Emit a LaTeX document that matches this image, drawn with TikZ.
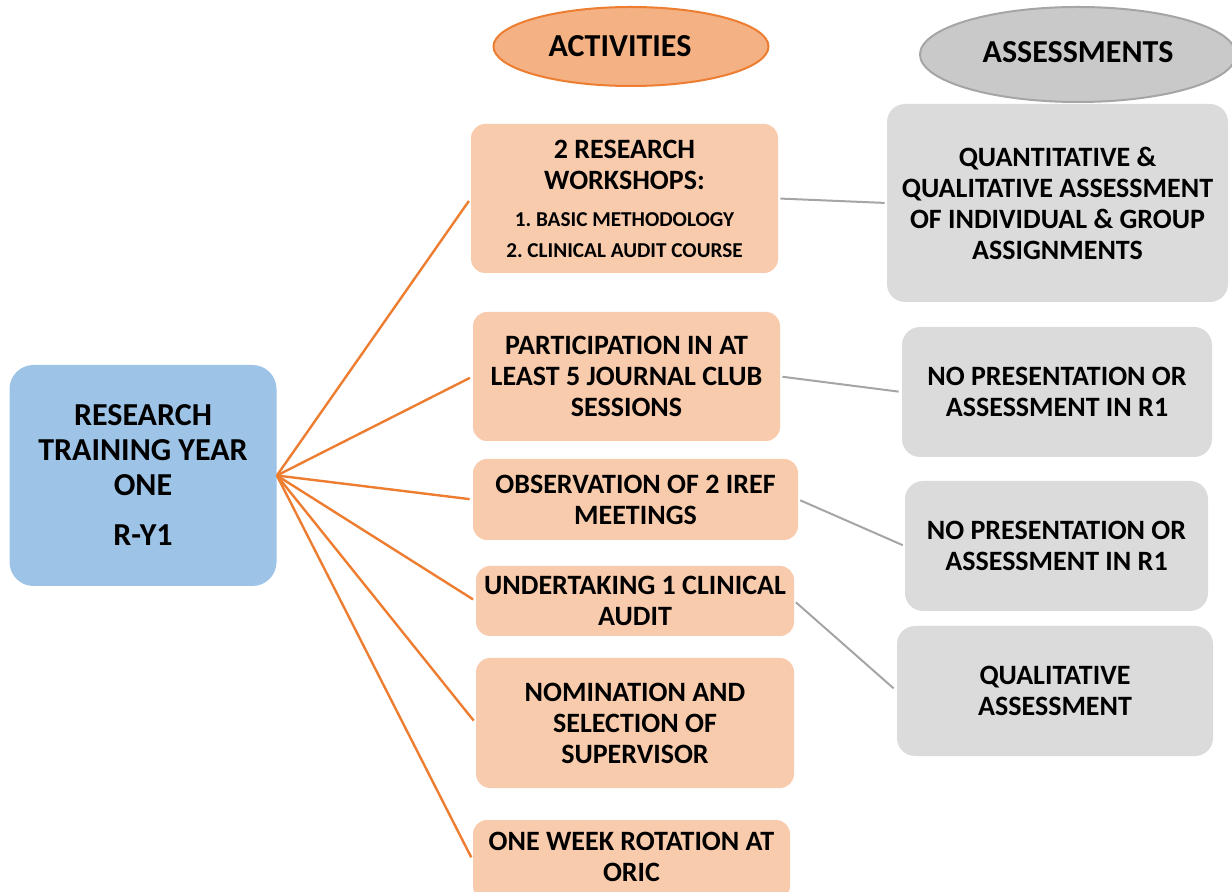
\documentclass[tikz,border=0pt]{standalone}
\usepackage{fontspec}
\setmainfont{Carlito}
\usetikzlibrary{shapes.geometric}
\definecolor{acfill}{HTML}{F8CBAD}
\definecolor{orline}{HTML}{ED7D31}
\definecolor{elfill}{HTML}{F4B183}
\definecolor{blfill}{HTML}{9DC3E6}
\definecolor{grfill}{HTML}{DBDBDB}
\definecolor{grline}{HTML}{A5A5A5}
\definecolor{elgray}{HTML}{C9C9C9}
\frenchspacing
\begin{document}
\begin{tikzpicture}[x=0.5pt,y=-0.5pt,
  boxtext/.style={align=center, inner sep=0pt, font=\bfseries\fontsize{14}{15.5}\selectfont},
  actbox/.style={boxtext, fill=acfill, rounded corners=7pt},
  asbox/.style={boxtext, fill=grfill, rounded corners=9pt},
  mainbox/.style={align=center, inner sep=0pt, fill=blfill, rounded corners=12pt, font=\bfseries\fontsize{16}{17.5}\selectfont},
  headell/.style={ellipse, inner sep=0pt, line width=1pt, font=\bfseries\fontsize{16}{18}\selectfont},
  orlink/.style={draw=orline, line width=1.2pt},
  grlink/.style={draw=grline, line width=1pt}
]
\useasboundingbox (0,0) rectangle (1232,892);

% header ellipses
\node[headell, fill=elfill, draw=orline, minimum width=137.5pt, minimum height=39.5pt] (hact) at (631,46.5) {\hspace*{-11pt}ACTIVITIES};
\node[headell, fill=elgray, draw=grline, minimum width=158pt, minimum height=47.5pt] (hass) at (1078,54.5) {\raisebox{2.2pt}{ASSESSMENTS}};

% central box
\node[mainbox, minimum width=133.5pt, minimum height=110.5pt] (main) at (143,475.5)
  {RESEARCH\\TRAINING YEAR\\ONE\\[7.5pt]R-Y1};

% activity boxes
\node[actbox, minimum width=153.5pt, minimum height=74.5pt] (a1) at (624.5,198.5)
  {2 RESEARCH\\WORKSHOPS:\\[3pt]{\fontsize{10.6}{16}\selectfont 1. BASIC METHODOLOGY}\\{\fontsize{10.6}{16}\selectfont 2. CLINICAL AUDIT COURSE}};
\node[actbox, minimum width=153.5pt, minimum height=64.5pt] (a2) at (626.5,376.5)
  {PARTICIPATION IN AT\\LEAST 5 JOURNAL CLUB\\SESSIONS};
\node[actbox, minimum width=162.5pt, minimum height=40.5pt] (a3) at (635.5,499.5)
  {OBSERVATION OF 2 IREF\\MEETINGS};
\node[actbox, minimum width=159pt, minimum height=35pt] (a4) at (635,601)
  {UNDERTAKING 1 CLINICAL\\AUDIT};
\node[actbox, minimum width=159pt, minimum height=65pt] (a5) at (635,723)
  {NOMINATION AND\\SELECTION OF\\SUPERVISOR};
\node[actbox, minimum width=158.5pt, minimum height=40pt] (a6) at (631.5,860)
  {ONE WEEK ROTATION AT\\ORIC\\[-12.5pt]\mbox{}};

% assessment boxes
\node[asbox, minimum width=170.5pt, minimum height=99pt] (b1) at (1057.5,203)
  {QUANTITATIVE \&\\QUALITATIVE ASSESSMENT\\OF INDIVIDUAL \& GROUP\\ASSIGNMENTS};
\node[asbox, minimum width=155pt, minimum height=65pt] (b2) at (1057,392)
  {NO PRESENTATION OR\\ASSESSMENT IN R1};
\node[asbox, minimum width=151.5pt, minimum height=65pt] (b3) at (1056.5,546)
  {NO PRESENTATION OR\\ASSESSMENT IN R1};
\node[asbox, minimum width=158pt, minimum height=65pt] (b4) at (1055,691)
  {QUALITATIVE\\ASSESSMENT};

% connectors
\foreach \t in {a1,a2,a3,a4,a5,a6}
  \draw[orlink, shorten >=1.5pt] (main.east) -- (\t.west);
\draw[grlink, shorten <=1pt, shorten >=1pt] (a1.east) -- (b1.west);
\draw[grlink, shorten <=1pt, shorten >=1.5pt] (a2.east) -- (b2.west);
\draw[grlink, shorten <=1pt, shorten >=1pt] (a3.east) -- (b3.west);
\draw[grlink, shorten <=1pt, shorten >=2pt] (a4.east) -- (b4.west);
\end{tikzpicture}
\end{document}
